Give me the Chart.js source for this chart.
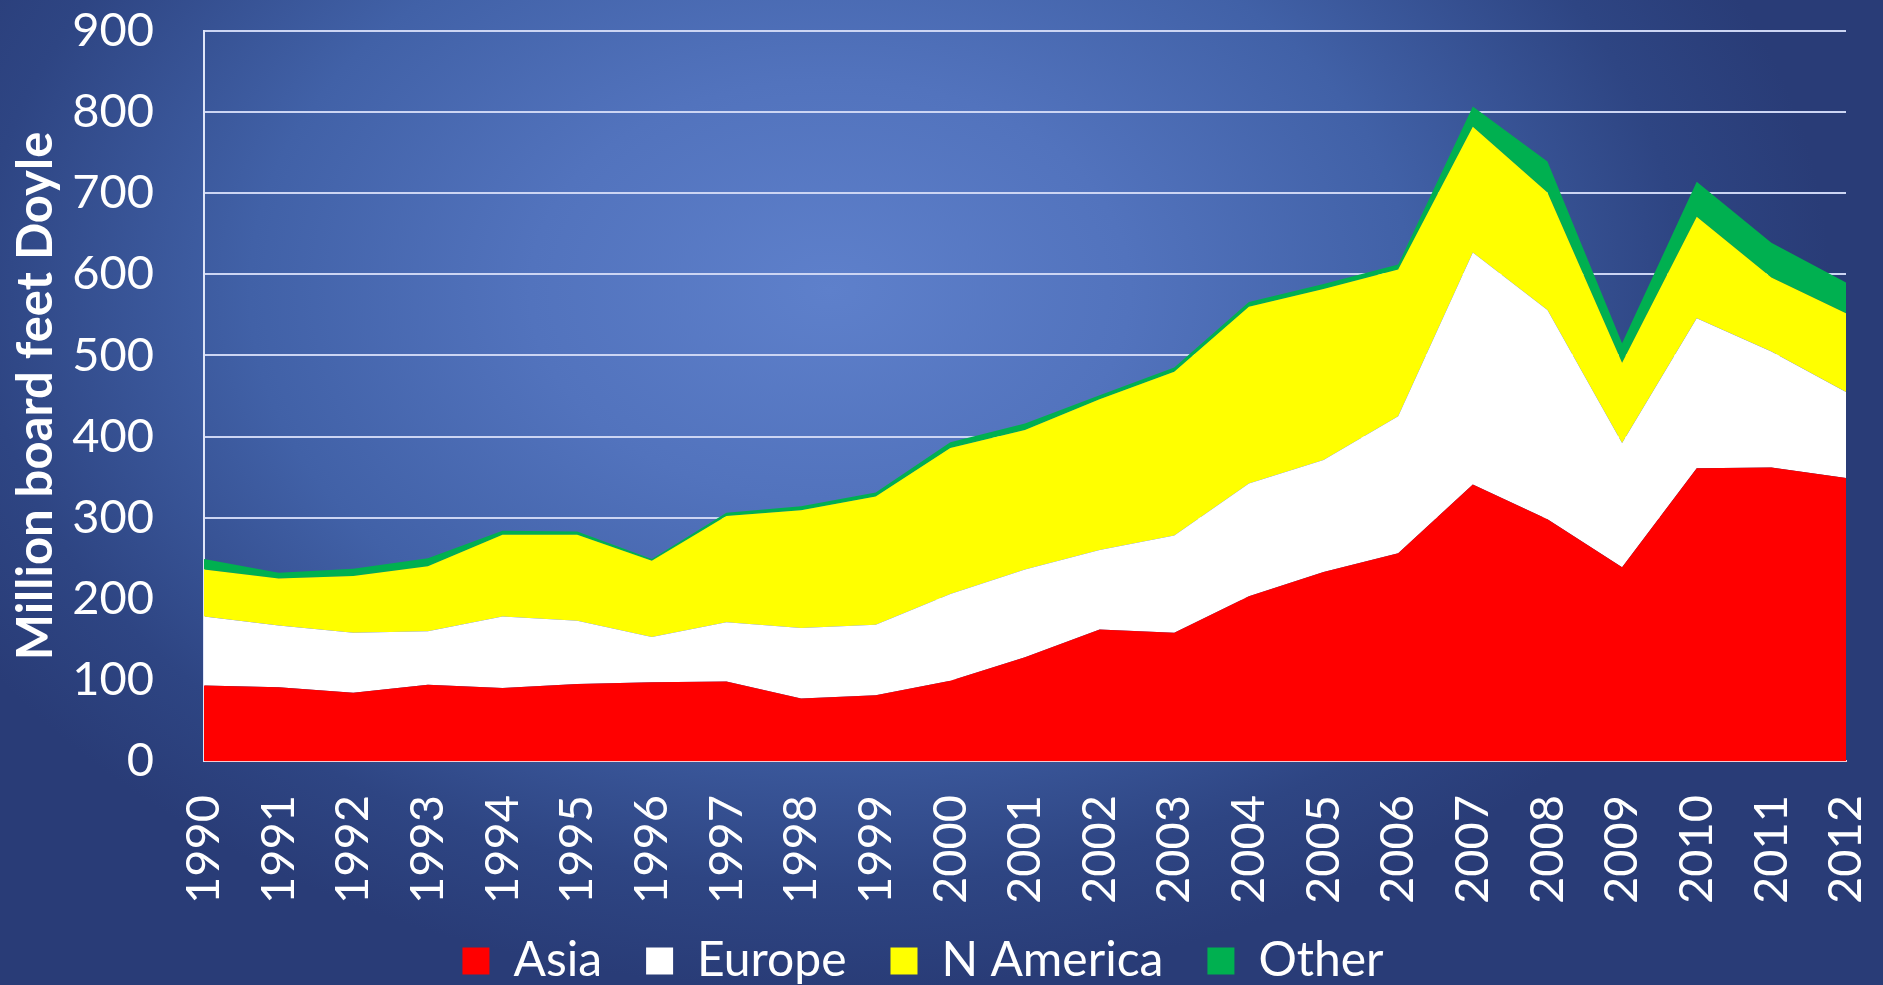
<!DOCTYPE html>
<html><head><meta charset="utf-8">
<script src="https://cdn.jsdelivr.net/npm/chart.js@4.4.1/dist/chart.umd.min.js"></script>
<style>
html,body{margin:0;padding:0;width:1883px;height:985px;overflow:hidden;}
body{background:radial-gradient(ellipse 1000px 700px at 830px 290px,#5e80cb 0%,#5273bd 30%,#4161a7 58%,#2e4583 85%,#293c77 100%);}
#wrap{position:absolute;left:0;top:0;width:1883px;height:995px;}
</style></head><body>
<div id="wrap"><canvas id="c" width="1883" height="995"></canvas></div>
<script>
const years = ['1990','1991','1992','1993','1994','1995','1996','1997','1998','1999','2000','2001','2002','2003','2004','2005','2006','2007','2008','2009','2010','2011','2012'];
const asia    = [93,91,84,94,90,95,97,98,77,81,99,128,162,158,203,233,256,341,298,239,361,362,349];
const europe  = [85,76,74,66,88,78,56,73,87,87,107,108,98,120,139,138,169,286,258,153,185,143,106];
const nAmerica= [58,58,70,80,101,106,94,131,145,158,180,172,186,202,218,211,181,155,145,99,125,91,97];
const other   = [13,7,9,10,5,4,2,4,5,5,7,8,5,5,6,6,6,25,38,24,43,43,38];
const yTicks  = [0,100,200,300,400,500,600,700,800,900];

function ds(label, data, color, fill){
  return {label, data, backgroundColor: color, borderColor: color, borderWidth: 0,
    pointRadius: 0, fill, tension: 0};
}
const FONT = 'Lato';
const unclipX = {
  id: 'unclipX',
  afterLayout(chart){ chart.scales.x.bottom = chart.height; }
};
new Chart(document.getElementById('c'), {
  type: 'line',
  data: {
    labels: years,
    datasets: [
      ds('Asia', asia, '#ff0000', 'origin'),
      ds('Europe', europe, '#ffffff', '-1'),
      ds('N America', nAmerica, '#ffff00', '-1'),
      ds('Other', other, '#00b050', '-1')
    ]
  },
  plugins: [unclipX],
  options: {
    responsive: false, animation: false, devicePixelRatio: 1,
    layout: {padding: {left: 0, right: 37, top: 31, bottom: 0}},
    plugins: {
      tooltip: {enabled: false},
      legend: {
        position: 'bottom',
        labels: {color: '#ffffff', font: {family: FONT, size: 48}, boxWidth: 27, boxHeight: 27, padding: 44}
      }
    },
    scales: {
      x: {
        offset: false,
        grid: {display: false, drawTicks: false},
        border: {display: true, color: '#f5c8d0', width: 2},
        ticks: {color: '#ffffff', font: {family: FONT, size: 47}, minRotation: 90, maxRotation: 90, padding: 34, autoSkip: false},
        afterFit: s => { s.height = 132; s.paddingLeft = 0; s.paddingRight = 0; }
      },
      y: {
        stacked: true, min: 0, max: 900,
        afterBuildTicks: s => { s.ticks = yTicks.map(v => ({value: v})); },
        grid: {color: '#ccd5f3', lineWidth: 2, drawTicks: false},
        border: {display: true, color: '#dfe5f8', width: 2},
        ticks: {color: '#ffffff', font: {family: FONT, size: 47}, padding: 50},
        title: {display: true, text: 'Million board feet Doyle', color: '#ffffff',
          font: {family: FONT, size: 49, weight: 'bold'}, padding: {top: 7, bottom: 0}},
        afterFit: s => { s.width = 204; s.paddingTop = 0; s.paddingBottom = 0; }
      }
    }
  }
});
</script>
</body></html>
